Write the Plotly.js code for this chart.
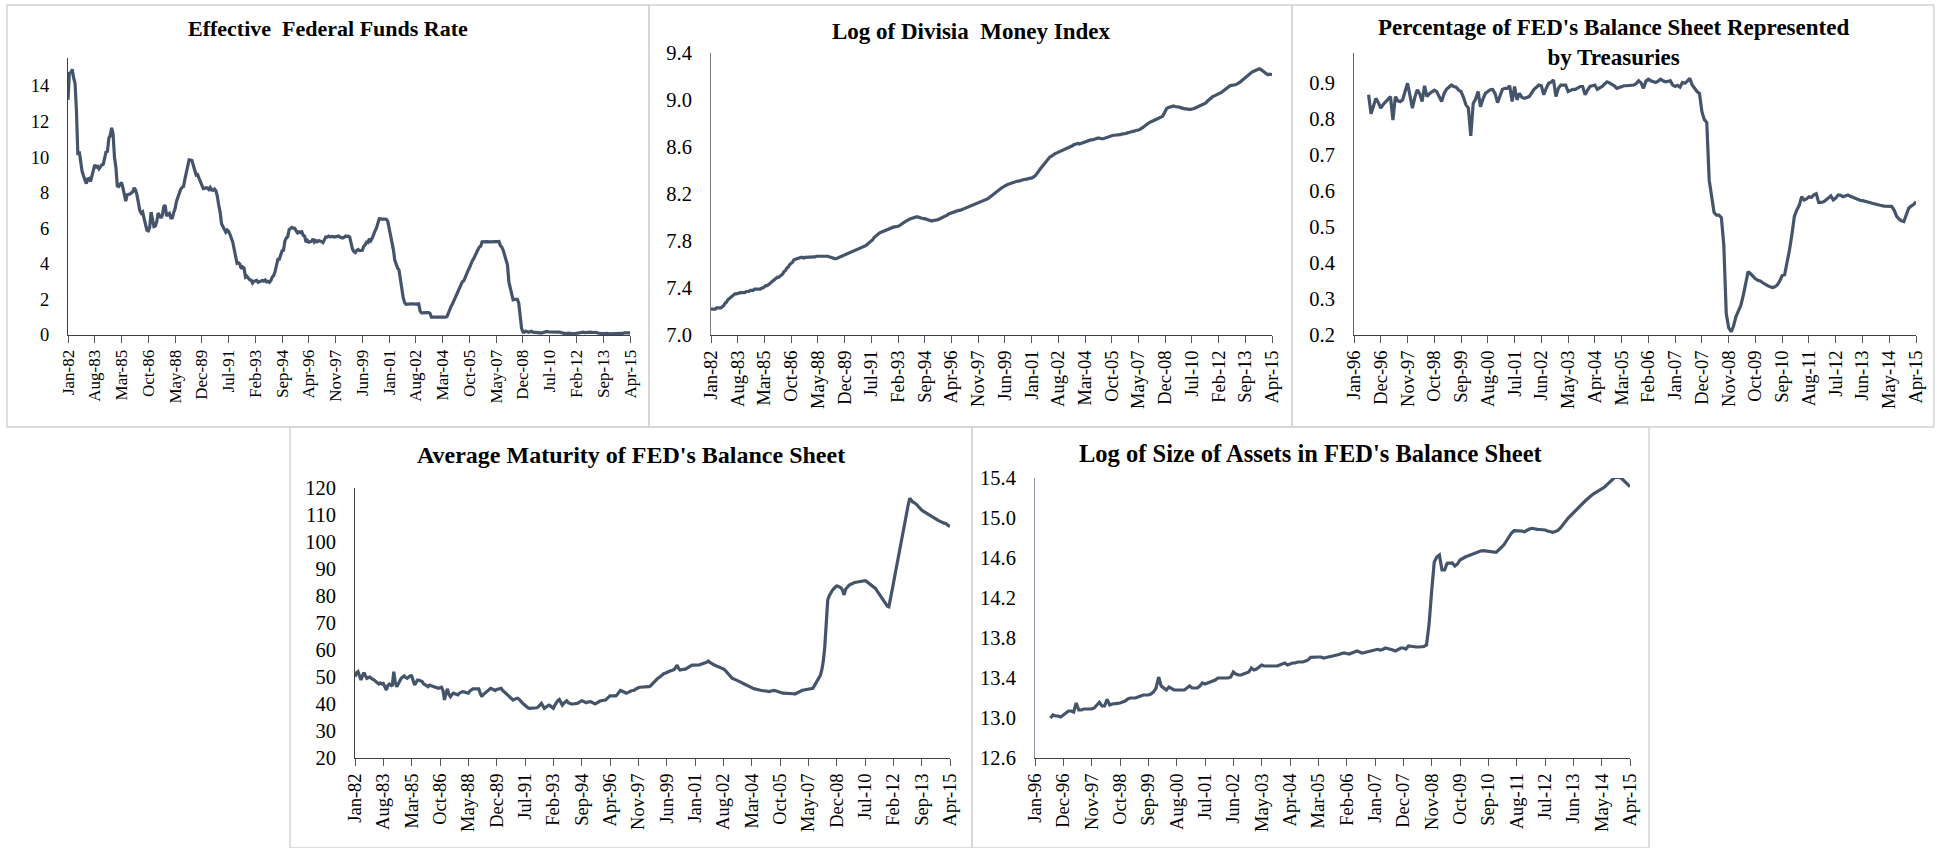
<!DOCTYPE html>
<html>
<head>
<meta charset="utf-8">
<script src="https://cdn.plot.ly/plotly-3.0.1.min.js"></script>
<style>
  body { margin: 0; background: #ffffff; }
  #chart { width: 1937px; height: 848px; }
</style>
</head>
<body>
<div id="chart"></div>
<script>
// Tick labels (category axis, one label every 19 / 11 months)
var longTicks = ["Jan-82", "Aug-83", "Mar-85", "Oct-86", "May-88", "Dec-89", "Jul-91", "Feb-93",
  "Sep-94", "Apr-96", "Nov-97", "Jun-99", "Jan-01", "Aug-02", "Mar-04", "Oct-05", "May-07",
  "Dec-08", "Jul-10", "Feb-12", "Sep-13", "Apr-15"];
var shortTicks = ["Jan-96", "Dec-96", "Nov-97", "Oct-98", "Sep-99", "Aug-00", "Jul-01", "Jun-02",
  "May-03", "Apr-04", "Mar-05", "Feb-06", "Jan-07", "Dec-07", "Nov-08", "Oct-09", "Sep-10",
  "Aug-11", "Jul-12", "Jun-13", "May-14", "Apr-15"];

// Effective federal funds rate, monthly Jan-82 .. Apr-15
var fedFundsRate = [
  13.22, 14.78, 14.68, 14.94, 14.45, 14.15, 12.59, 10.12, 10.31, 9.71, 9.20, 8.95,
  8.68, 8.51, 8.77, 8.80, 8.63, 8.98, 9.37, 9.56, 9.45, 9.48, 9.34, 9.47,
  9.56, 9.59, 9.91, 10.29, 10.32, 11.06, 11.23, 11.64, 11.30, 9.99, 9.43, 8.38,
  8.35, 8.50, 8.58, 8.27, 7.97, 7.53, 7.88, 7.90, 7.92, 7.99, 8.05, 8.27,
  8.14, 7.86, 7.48, 6.99, 6.85, 6.92, 6.56, 6.17, 5.89, 5.85, 6.04, 6.91,
  6.43, 6.10, 6.13, 6.37, 6.85, 6.73, 6.58, 6.73, 7.22, 7.29, 6.69, 6.77,
  6.83, 6.58, 6.58, 6.87, 7.09, 7.51, 7.75, 8.01, 8.19, 8.30, 8.35, 8.76,
  9.12, 9.36, 9.85, 9.84, 9.81, 9.53, 9.24, 8.99, 9.02, 8.84, 8.55, 8.45,
  8.23, 8.24, 8.28, 8.26, 8.18, 8.29, 8.15, 8.13, 8.20, 8.11, 7.81, 7.31,
  6.91, 6.25, 6.12, 5.91, 5.78, 5.90, 5.82, 5.66, 5.45, 5.21, 4.81, 4.43,
  4.03, 4.06, 3.98, 3.73, 3.82, 3.76, 3.25, 3.30, 3.22, 3.10, 3.09, 2.92,
  3.02, 3.03, 3.07, 2.96, 3.00, 3.04, 3.06, 3.03, 3.09, 2.99, 3.02, 2.96,
  3.05, 3.25, 3.34, 3.56, 4.01, 4.25, 4.26, 4.47, 4.73, 4.76, 5.29, 5.45,
  5.53, 5.92, 5.98, 6.05, 6.01, 6.00, 5.85, 5.74, 5.80, 5.76, 5.80, 5.60,
  5.56, 5.22, 5.31, 5.22, 5.24, 5.27, 5.40, 5.22, 5.30, 5.24, 5.31, 5.29,
  5.25, 5.19, 5.39, 5.51, 5.50, 5.56, 5.52, 5.54, 5.54, 5.50, 5.52, 5.50,
  5.56, 5.51, 5.49, 5.45, 5.49, 5.56, 5.54, 5.55, 5.51, 5.07, 4.83, 4.68,
  4.63, 4.76, 4.81, 4.74, 4.74, 4.76, 4.99, 5.07, 5.22, 5.20, 5.42, 5.30,
  5.45, 5.73, 5.85, 6.02, 6.27, 6.53, 6.54, 6.50, 6.52, 6.51, 6.51, 6.40,
  5.98, 5.49, 5.31, 4.80, 4.21, 3.97, 3.77, 3.65, 3.07, 2.49, 2.09, 1.82,
  1.73, 1.74, 1.73, 1.75, 1.75, 1.75, 1.73, 1.74, 1.75, 1.75, 1.34, 1.24,
  1.24, 1.26, 1.25, 1.26, 1.26, 1.22, 1.01, 1.03, 1.01, 1.01, 1.00, 0.98,
  1.00, 1.01, 1.00, 1.00, 1.00, 1.03, 1.26, 1.43, 1.61, 1.76, 1.93, 2.16,
  2.28, 2.50, 2.63, 2.79, 3.00, 3.04, 3.26, 3.50, 3.62, 3.78, 4.00, 4.16,
  4.29, 4.49, 4.59, 4.79, 4.94, 4.99, 5.24, 5.25, 5.25, 5.25, 5.25, 5.24,
  5.25, 5.26, 5.26, 5.25, 5.25, 5.25, 5.26, 5.02, 4.94, 4.76, 4.49, 4.24,
  3.94, 2.98, 2.61, 2.28, 1.98, 2.00, 2.01, 2.00, 1.81, 0.97, 0.39, 0.16,
  0.15, 0.22, 0.18, 0.15, 0.18, 0.21, 0.16, 0.16, 0.15, 0.12, 0.12, 0.12,
  0.11, 0.13, 0.16, 0.20, 0.20, 0.18, 0.18, 0.19, 0.19, 0.19, 0.19, 0.18,
  0.17, 0.16, 0.14, 0.10, 0.09, 0.09, 0.07, 0.10, 0.08, 0.07, 0.08, 0.07,
  0.08, 0.10, 0.13, 0.14, 0.16, 0.16, 0.16, 0.13, 0.14, 0.16, 0.16, 0.16,
  0.14, 0.15, 0.14, 0.15, 0.11, 0.09, 0.09, 0.08, 0.08, 0.09, 0.08, 0.09,
  0.07, 0.07, 0.08, 0.09, 0.09, 0.10, 0.09, 0.09, 0.09, 0.09, 0.09, 0.12,
  0.11, 0.11, 0.11, 0.12
];

// Log of Divisia money index, monthly Jan-82 .. Apr-15
var divisiaLog = [
  7.22, 7.22, 7.22, 7.22, 7.23, 7.23, 7.23, 7.23, 7.24, 7.25, 7.27, 7.28,
  7.30, 7.31, 7.32, 7.33, 7.34, 7.35, 7.35, 7.355, 7.36, 7.36, 7.36, 7.36,
  7.36, 7.37, 7.37, 7.37, 7.38, 7.38, 7.38, 7.39, 7.39, 7.39, 7.39, 7.39,
  7.40, 7.40, 7.41, 7.42, 7.42, 7.43, 7.44, 7.45, 7.46, 7.47, 7.48, 7.49,
  7.49, 7.50, 7.51, 7.52, 7.54, 7.55, 7.57, 7.58, 7.60, 7.61, 7.62, 7.64,
  7.645, 7.65, 7.65, 7.66, 7.66, 7.66, 7.655, 7.66, 7.66, 7.66, 7.66, 7.665,
  7.66, 7.66, 7.665, 7.67, 7.67, 7.67, 7.675, 7.67, 7.67, 7.67, 7.67, 7.67,
  7.665, 7.66, 7.66, 7.655, 7.65, 7.65, 7.655, 7.66, 7.665, 7.67, 7.675, 7.68,
  7.685, 7.69, 7.695, 7.70, 7.705, 7.71, 7.72, 7.725, 7.73, 7.735, 7.74, 7.745,
  7.75, 7.755, 7.76, 7.77, 7.78, 7.79, 7.80, 7.81, 7.83, 7.84, 7.855, 7.865,
  7.87, 7.875, 7.88, 7.89, 7.89, 7.895, 7.90, 7.905, 7.91, 7.915, 7.92, 7.92,
  7.92, 7.925, 7.93, 7.94, 7.95, 7.96, 7.965, 7.97, 7.98, 7.985, 7.99, 7.995,
  8.00, 8.00, 8.005, 8.005, 8.00, 8.00, 7.995, 7.99, 7.99, 7.985, 7.98, 7.975,
  7.97, 7.97, 7.975, 7.975, 7.98, 7.98, 7.985, 7.99, 7.995, 8.00, 8.005, 8.01,
  8.02, 8.03, 8.035, 8.04, 8.045, 8.045, 8.05, 8.055, 8.06, 8.06, 8.065, 8.07,
  8.07, 8.075, 8.08, 8.085, 8.09, 8.095, 8.10, 8.105, 8.11, 8.115, 8.12, 8.125,
  8.13, 8.135, 8.14, 8.15, 8.155, 8.16, 8.17, 8.18, 8.19, 8.20, 8.21, 8.22,
  8.225, 8.235, 8.245, 8.255, 8.26, 8.27, 8.275, 8.28, 8.285, 8.29, 8.295, 8.30,
  8.30, 8.305, 8.31, 8.31, 8.315, 8.32, 8.32, 8.325, 8.325, 8.33, 8.33, 8.335,
  8.335, 8.34, 8.35, 8.36, 8.38, 8.395, 8.41, 8.425, 8.44, 8.46, 8.475, 8.49,
  8.505, 8.515, 8.52, 8.53, 8.54, 8.545, 8.55, 8.555, 8.56, 8.565, 8.57, 8.575,
  8.58, 8.585, 8.59, 8.60, 8.605, 8.61, 8.62, 8.625, 8.63, 8.63, 8.625, 8.63,
  8.635, 8.635, 8.64, 8.645, 8.65, 8.655, 8.66, 8.66, 8.665, 8.67, 8.67, 8.675,
  8.675, 8.67, 8.67, 8.67, 8.675, 8.68, 8.685, 8.69, 8.695, 8.695, 8.70, 8.70,
  8.70, 8.705, 8.705, 8.705, 8.71, 8.71, 8.71, 8.715, 8.72, 8.72, 8.725, 8.73,
  8.73, 8.735, 8.74, 8.74, 8.745, 8.75, 8.755, 8.765, 8.775, 8.785, 8.79, 8.80,
  8.81, 8.815, 8.82, 8.83, 8.835, 8.84, 8.845, 8.85, 8.855, 8.86, 8.88, 8.91,
  8.925, 8.935, 8.94, 8.945, 8.95, 8.95, 8.945, 8.945, 8.94, 8.94, 8.935, 8.93,
  8.93, 8.925, 8.925, 8.92, 8.92, 8.92, 8.92, 8.925, 8.93, 8.935, 8.94, 8.945,
  8.95, 8.955, 8.96, 8.965, 8.975, 8.99, 9.00, 9.015, 9.025, 9.03, 9.035, 9.04,
  9.045, 9.05, 9.055, 9.065, 9.075, 9.085, 9.095, 9.105, 9.11, 9.12, 9.125, 9.125,
  9.13, 9.13, 9.135, 9.14, 9.15, 9.16, 9.17, 9.18, 9.19, 9.205, 9.215, 9.225,
  9.235, 9.24, 9.245, 9.25, 9.255, 9.26, 9.265, 9.26, 9.25, 9.24, 9.23, 9.22,
  9.215, 9.22, 9.215, 9.215
];

// Share of treasuries in the FED balance sheet, monthly Jan-96 .. Apr-15 (starts Jul-96)
var treasuryShare = [
  null, null, null, null, null, null, 0.867, 0.814, 0.835, 0.857, 0.845, 0.830,
  0.840, 0.848, 0.855, 0.862, 0.797, 0.862, 0.850, 0.848, 0.853, 0.875, 0.899, 0.865,
  0.830, 0.860, 0.881, 0.870, 0.848, 0.892, 0.862, 0.870, 0.876, 0.880, 0.876, 0.862,
  0.848, 0.870, 0.882, 0.888, 0.894, 0.890, 0.888, 0.880, 0.876, 0.860, 0.839, 0.830,
  0.753, 0.843, 0.855, 0.876, 0.834, 0.855, 0.871, 0.876, 0.881, 0.882, 0.870, 0.845,
  0.865, 0.882, 0.885, 0.885, 0.892, 0.848, 0.890, 0.853, 0.871, 0.860, 0.857, 0.860,
  0.862, 0.872, 0.882, 0.888, 0.894, 0.892, 0.867, 0.885, 0.899, 0.902, 0.908, 0.862,
  0.885, 0.894, 0.894, 0.894, 0.876, 0.880, 0.882, 0.882, 0.886, 0.890, 0.890, 0.867,
  0.880, 0.890, 0.892, 0.894, 0.882, 0.886, 0.890, 0.897, 0.903, 0.900, 0.896, 0.892,
  0.885, 0.888, 0.890, 0.892, 0.892, 0.892, 0.892, 0.894, 0.898, 0.906, 0.900, 0.885,
  0.905, 0.910, 0.906, 0.904, 0.901, 0.905, 0.910, 0.906, 0.903, 0.904, 0.906, 0.894,
  0.890, 0.893, 0.888, 0.901, 0.899, 0.905, 0.913, 0.894, 0.885, 0.876, 0.871, 0.820,
  0.798, 0.790, 0.630, 0.580, 0.540, 0.533, 0.533, 0.526, 0.450, 0.260, 0.220, 0.209,
  0.225, 0.251, 0.265, 0.282, 0.310, 0.345, 0.376, 0.370, 0.362, 0.356, 0.352, 0.350,
  0.345, 0.340, 0.337, 0.334, 0.332, 0.334, 0.339, 0.350, 0.365, 0.367, 0.400, 0.436,
  0.480, 0.529, 0.547, 0.560, 0.584, 0.575, 0.578, 0.584, 0.582, 0.589, 0.592, 0.568,
  0.568, 0.570, 0.575, 0.580, 0.586, 0.575, 0.580, 0.589, 0.588, 0.584, 0.586, 0.589,
  0.585, 0.582, 0.578, 0.575, 0.574, 0.573, 0.572, 0.571, 0.568, 0.566, 0.564, 0.561,
  0.559, 0.559, 0.558, 0.558, 0.557, 0.557, 0.547, 0.530, 0.522, 0.517, 0.515, 0.533,
  0.552, 0.558, 0.562, 0.570
];

// Average maturity of the FED balance sheet, monthly Jan-82 .. Apr-15
var maturityAvg = [
  50.1, 51.6, 52.0, 50.5, 48.9, 50.5, 51.6, 50.5, 49.5, 49.8, 50.0, 49.5,
  49.3, 48.8, 48.3, 48.0, 47.4, 47.8, 47.4, 47.6, 46.5, 45.2, 46.8, 47.4,
  47.0, 46.6, 52.0, 48.0, 46.4, 47.5, 48.9, 49.5, 50.0, 50.4, 49.8, 49.5,
  50.0, 50.4, 50.4, 48.5, 47.0, 48.0, 48.9, 48.8, 48.5, 48.3, 47.5, 47.0,
  46.8, 46.4, 47.0, 46.8, 46.6, 46.2, 46.0, 46.0, 45.8, 46.0, 46.2, 45.0,
  41.5, 44.0, 45.6, 43.5, 42.7, 43.5, 44.0, 43.8, 43.5, 43.4, 44.0, 44.3,
  44.6, 44.5, 44.3, 44.2, 44.0, 44.8, 45.3, 45.6, 45.6, 45.6, 45.6, 45.6,
  44.0, 42.7, 43.5, 44.0, 44.6, 45.0, 45.4, 45.8, 45.6, 45.2, 45.0, 45.4,
  45.6, 45.8, 45.8, 45.0, 44.5, 44.0, 43.5, 43.0, 42.5, 42.0, 41.5, 41.8,
  42.0, 42.1, 41.8, 41.0, 40.5, 40.0, 39.5, 39.0, 38.6, 38.4, 38.4, 38.5,
  38.4, 38.4, 38.6, 39.0, 39.5, 40.2, 39.3, 38.4, 38.8, 39.3, 39.6, 39.3,
  38.9, 38.4, 39.5, 40.5, 41.3, 41.7, 40.5, 39.6, 40.3, 40.8, 41.2, 40.5,
  40.2, 40.0, 40.0, 40.0, 40.0, 40.2, 40.5, 40.8, 41.2, 41.0, 40.8, 40.5,
  40.7, 40.9, 40.9, 40.6, 40.3, 40.0, 40.3, 40.8, 41.0, 41.2, 41.3, 41.5,
  41.5, 42.0, 42.5, 43.0, 43.0, 43.0, 43.0, 43.0, 43.6, 44.3, 45.0, 44.8,
  44.5, 44.2, 44.0, 44.2, 44.6, 44.8, 45.0, 45.0, 45.4, 45.8, 46.0, 46.2,
  46.2, 46.2, 46.2, 46.2, 46.4, 46.4, 46.6, 47.2, 47.8, 48.6, 49.2, 49.5,
  49.8, 50.3, 50.8, 51.2, 51.4, 51.7, 52.0, 52.2, 52.4, 52.5, 52.8, 53.5,
  54.4, 53.2, 52.6, 52.7, 52.8, 52.8, 53.0, 53.4, 53.8, 54.2, 54.4, 54.4,
  54.4, 54.4, 54.4, 54.5, 54.7, 55.0, 55.1, 55.3, 55.5, 55.9, 55.4, 55.0,
  54.6, 54.4, 54.2, 54.0, 53.8, 53.6, 53.3, 53.0, 52.6, 52.0, 51.3, 50.5,
  49.8, 49.5, 49.3, 49.1, 48.9, 48.6, 48.3, 48.0, 47.7, 47.4, 47.1, 46.8,
  46.4, 46.2, 46.0, 45.8, 45.6, 45.4, 45.3, 45.2, 45.1, 45.0, 44.9, 44.8,
  44.7, 44.6, 44.6, 44.8, 45.0, 45.0, 44.9, 44.8, 44.6, 44.4, 44.2, 44.0,
  44.0, 44.0, 44.0, 44.0, 44.0, 43.9, 43.8, 43.7, 44.0, 44.4, 44.8, 45.0,
  45.1, 45.2, 45.3, 45.4, 45.4, 45.4, 45.4, 45.8, 46.7, 47.7, 48.5, 49.5,
  50.5, 52.5, 55.7, 61.0, 71.0, 78.5, 80.0, 81.3, 82.0, 82.7, 83.3, 83.7,
  83.6, 83.3, 83.0, 82.0, 80.4, 82.5, 83.3, 83.8, 84.2, 84.5, 84.9, 85.0,
  85.1, 85.2, 85.3, 85.5, 85.6, 85.7, 85.7, 85.4, 85.0, 84.5, 84.1, 83.6,
  83.2, 82.8, 82.0, 81.2, 80.4, 79.5, 78.5, 77.5, 76.8, 76.2, 76.0, 78.5,
  81.6, 84.5, 87.5, 90.5, 93.5, 96.5, 99.5, 102.0, 105.0, 108.0, 111.9, 113.8,
  116.2, 115.4, 114.8, 114.6, 114.2, 113.7, 113.0, 112.3, 111.8, 111.4, 111.1, 110.8,
  110.5, 110.2, 109.8, 109.4, 109.0, 108.7, 108.4, 108.0, 107.7, 107.4, 107.2, 107.0,
  106.9, 106.6, 106.2, 105.7
];

// Log of size of assets in the FED balance sheet, monthly Jan-96 .. Apr-15 (starts Jul-96)
var assetsLog = [
  null, null, null, null, null, null, 13.00, 13.03, 13.02, 13.02, 13.01, 13.03,
  13.06, 13.07, 13.07, 13.06, 13.15, 13.08, 13.08, 13.09, 13.09, 13.09, 13.09, 13.10,
  13.13, 13.157, 13.12, 13.12, 13.187, 13.13, 13.14, 13.14, 13.147, 13.15, 13.16, 13.17,
  13.19, 13.20, 13.20, 13.20, 13.21, 13.22, 13.23, 13.23, 13.23, 13.24, 13.26, 13.30,
  13.41, 13.32, 13.30, 13.28, 13.31, 13.29, 13.28, 13.28, 13.28, 13.28, 13.28, 13.30,
  13.32, 13.30, 13.30, 13.30, 13.32, 13.35, 13.34, 13.35, 13.36, 13.37, 13.38, 13.40,
  13.40, 13.40, 13.40, 13.40, 13.41, 13.46, 13.44, 13.43, 13.43, 13.44, 13.45, 13.46,
  13.50, 13.48, 13.49, 13.51, 13.53, 13.52, 13.52, 13.52, 13.52, 13.52, 13.52, 13.53,
  13.54, 13.55, 13.53, 13.54, 13.55, 13.55, 13.56, 13.56, 13.56, 13.57, 13.58, 13.607,
  13.61, 13.61, 13.61, 13.61, 13.60, 13.605, 13.61, 13.615, 13.625, 13.63, 13.635, 13.645,
  13.65, 13.645, 13.64, 13.65, 13.66, 13.67, 13.66, 13.65, 13.655, 13.66, 13.665, 13.675,
  13.68, 13.687, 13.68, 13.685, 13.70, 13.695, 13.69, 13.68, 13.67, 13.685, 13.70, 13.70,
  13.69, 13.72, 13.715, 13.71, 13.71, 13.71, 13.71, 13.715, 13.73, 13.94, 14.27, 14.56,
  14.61, 14.63, 14.48, 14.48, 14.547, 14.55, 14.55, 14.52, 14.54, 14.58, 14.60, 14.61,
  14.62, 14.63, 14.64, 14.653, 14.66, 14.67, 14.673, 14.67, 14.663, 14.66, 14.657, 14.657,
  14.68, 14.70, 14.73, 14.77, 14.81, 14.85, 14.873, 14.873, 14.873, 14.87, 14.863, 14.88,
  14.89, 14.897, 14.89, 14.887, 14.885, 14.883, 14.88, 14.87, 14.86, 14.857, 14.865, 14.875,
  14.90, 14.935, 14.97, 15.00, 15.025, 15.053, 15.08, 15.11, 15.13, 15.155, 15.18, 15.207,
  15.225, 15.245, 15.263, 15.278, 15.29, 15.307, 15.33, 15.363, 15.385, 15.405, 15.407, 15.407,
  15.39, 15.365, 15.347, 15.313
];

var W = 1937, H = 848;
var lineColor = '#44546a';
var serif = 'Liberation Serif, Times New Roman, serif';

// pixel -> paper fraction
function fx(px) { return px / W; }
function fy(px) { return 1 - px / H; }

function monthIndex(n) {
  var out = [];
  for (var i = 0; i < n; i++) out.push(i);
  return out;
}

function lineTrace(values, num) {
  var s = num == 1 ? '' : String(num);
  return {
    x: monthIndex(values.length),
    y: values,
    type: 'scatter',
    mode: 'lines',
    line: {color: lineColor, width: 3.2},
    xaxis: 'x' + s,
    yaxis: 'y' + s,
    hoverinfo: 'skip',
    showlegend: false
  };
}

function xAxis(left, right, step, labels, size, num) {
  var vals = [];
  for (var i = 0; i < labels.length; i++) vals.push(i * step);
  return {
    domain: [fx(left), fx(right)],
    range: [0, step * (labels.length - 1)],
    anchor: 'y' + (num == 1 ? '' : num),
    tickmode: 'array',
    tickvals: vals,
    ticktext: labels,
    tickangle: -90,
    ticks: 'outside',
    ticklen: 7,
    tickwidth: 1,
    tickcolor: '#595959',
    showline: true,
    linecolor: '#404040',
    linewidth: 1,
    showgrid: false,
    zeroline: false,
    tickfont: {family: serif, size: size, color: '#000000'},
    fixedrange: true
  };
}

function yAxis(top, bottom, range, vals, fmt, size, axisColor, num) {
  return {
    domain: [fy(bottom), fy(top)],
    range: range,
    anchor: 'x' + (num == 1 ? '' : num),
    tickmode: 'array',
    tickvals: vals,
    ticktext: vals.map(function (v) { return fmt ? v.toFixed(fmt) : String(v); }),
    ticks: 'outside',
    ticklen: 14,
    tickcolor: 'rgba(0,0,0,0)',
    showline: true,
    linecolor: axisColor,
    linewidth: 1,
    showgrid: false,
    zeroline: false,
    tickfont: {family: serif, size: size, color: '#000000'},
    fixedrange: true
  };
}

function title(text, xPx, yPx, size) {
  return {
    text: text, xref: 'paper', yref: 'paper', x: fx(xPx), y: fy(yPx),
    xanchor: 'center', yanchor: 'middle', showarrow: false,
    font: {family: serif, size: size, color: '#000000', weight: 'bold'}
  };
}

function frame(x0, y0, x1, y1) {
  return {
    type: 'rect', xref: 'paper', yref: 'paper',
    x0: fx(x0), x1: fx(x1), y0: fy(y1), y1: fy(y0),
    line: {color: '#d4d4d4', width: 1.5}
  };
}

var data = [
  lineTrace(fedFundsRate, 1),
  lineTrace(divisiaLog, 2),
  lineTrace(treasuryShare, 3),
  lineTrace(maturityAvg, 4),
  lineTrace(assetsLog, 5)
];

var layout = {
  width: W,
  height: H,
  margin: {t: 0, l: 0, r: 0, b: 0},
  paper_bgcolor: '#ffffff',
  plot_bgcolor: 'rgba(0,0,0,0)',
  showlegend: false,
  xaxis: xAxis(68, 630, 19, longTicks, 17, 1),
  yaxis: yAxis(58, 335, [0, 15.57], [0, 2, 4, 6, 8, 10, 12, 14], 0, 18.5, '#404040', 1),
  xaxis2: xAxis(711, 1272, 19, longTicks, 18.5, 2),
  yaxis2: yAxis(53, 335, [7.0, 9.4], [7.0, 7.4, 7.8, 8.2, 8.6, 9.0, 9.4], 1, 20.5, '#7f7f7f', 2),
  xaxis3: xAxis(1354, 1916, 11, shortTicks, 18.5, 3),
  yaxis3: yAxis(53, 335, [0.2, 0.983], [0.2, 0.3, 0.4, 0.5, 0.6, 0.7, 0.8, 0.9], 1, 20.5, '#5a6478', 3),
  xaxis4: xAxis(355, 950, 19, longTicks, 18.5, 4),
  yaxis4: yAxis(488, 758, [20, 120], [20, 30, 40, 50, 60, 70, 80, 90, 100, 110, 120], 0, 20.5, '#404040', 4),
  xaxis5: xAxis(1035, 1630, 11, shortTicks, 18.5, 5),
  yaxis5: yAxis(478, 758, [12.6, 15.4], [12.6, 13.0, 13.4, 13.8, 14.2, 14.6, 15.0, 15.4], 1, 20.5, '#8c96a5', 5),
  annotations: [
    title('Effective\u00a0 Federal Funds Rate', 328, 28, 22),
    title('Log of Divisia\u00a0 Money Index', 971, 32, 23),
    title("Percentage of FED's Balance Sheet Represented<br>by Treasuries", 1613, 43, 23),
    title("Average Maturity of FED's Balance Sheet", 631, 455, 24),
    title("Log of Size of Assets in FED's Balance Sheet", 1311, 454, 24.5)
  ],
  shapes: [
    frame(7, 5, 649, 427),
    frame(649, 5, 1292, 427),
    frame(1292, 5, 1934, 427),
    frame(290, 427, 972, 848),
    frame(972, 427, 1649, 848)
  ]
};

Plotly.newPlot('chart', data, layout, {staticPlot: true, displayModeBar: false});
</script>
</body>
</html>
